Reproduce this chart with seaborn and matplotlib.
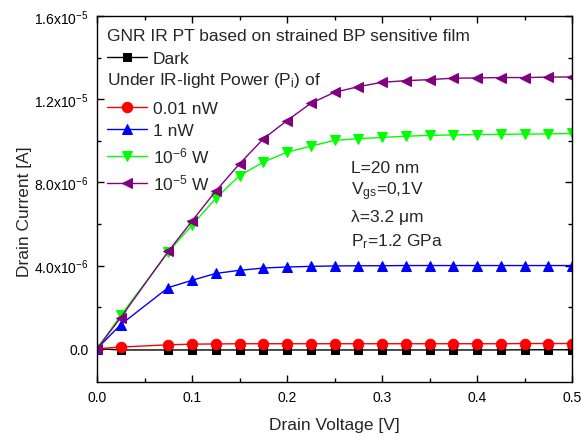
import matplotlib
matplotlib.use("Agg")
import matplotlib.pyplot as plt
import seaborn as sns
import numpy as np
import pandas as pd
from matplotlib.ticker import FixedLocator, FixedFormatter, MultipleLocator

# ---------------- data ----------------
drain_voltage = [0, 0.025, 0.075, 0.1, 0.125, 0.15, 0.175, 0.2, 0.225, 0.25,
                 0.275, 0.3, 0.325, 0.35, 0.375, 0.4, 0.425, 0.45, 0.475, 0.5]
# currents in units of 1e-6 A
dark = [0, -0.06, -0.06, -0.06, -0.06, -0.06, -0.06, -0.06, -0.06, -0.06,
        -0.06, -0.06, -0.06, -0.06, -0.06, -0.06, -0.06, -0.05, -0.05, -0.05]
p_001nW = [0, 0.08, 0.19, 0.22, 0.23, 0.24, 0.24, 0.24, 0.24, 0.24,
           0.24, 0.24, 0.24, 0.24, 0.24, 0.24, 0.24, 0.25, 0.25, 0.25]
p_1nW = [0, 1.16, 2.94, 3.29, 3.62, 3.77, 3.88, 3.93, 3.96, 3.98,
         3.99, 3.99, 4.0, 4.0, 4.0, 4.0, 4.0, 4.0, 4.0, 4.0]
p_1e6W = [0, 1.6, 4.65, 5.94, 7.23, 8.32, 8.97, 9.45, 9.74, 10.02,
          10.1, 10.16, 10.22, 10.26, 10.28, 10.3, 10.31, 10.32, 10.33, 10.35]
p_1e5W = [0, 1.5, 4.68, 6.14, 7.58, 8.89, 10.09, 10.97, 11.8, 12.33,
          12.6, 12.81, 12.89, 12.94, 13.01, 13.02, 13.04, 13.04, 13.06, 13.07]

series_labels = ["Dark", "0.01 nW", "1 nW", r"10$^{-6}$ W", r"10$^{-5}$ W"]
ytick_values = [0, 4e-6, 8e-6, 1.2e-5, 1.6e-5]
ytick_labels = ["0.0", r"4.0x10$^{-6}$", r"8.0x10$^{-6}$", r"1.2x10$^{-5}$", r"1.6x10$^{-5}$"]
xtick_values = [0.0, 0.1, 0.2, 0.3, 0.4, 0.5]
xtick_labels = ["0.0", "0.1", "0.2", "0.3", "0.4", "0.5"]
legend_title = "GNR IR PT based on strained BP sensitive film"
legend_sub = r"Under IR-light Power (P$_{\mathrm{i}}$) of"
annotations = ["L=20 nm", r"V$_{\mathrm{gs}}$=0,1V", "λ=3.2 μm", r"P$_{\mathrm{r}}$=1.2 GPa"]

# ---------------- style ----------------
sns.set_style("ticks")
plt.rcParams["font.family"] = ["Liberation Sans", "DejaVu Sans"]
plt.rcParams["mathtext.fontset"] = "custom"
plt.rcParams["mathtext.rm"] = "Liberation Sans"
plt.rcParams["mathtext.it"] = "Liberation Sans:italic"
plt.rcParams["mathtext.bf"] = "Liberation Sans:bold"
plt.rcParams["axes.linewidth"] = 1.0

W, H = 581, 439
fig = plt.figure(figsize=(W / 100, H / 100), dpi=100)
L, R, T, B = 97, 572, 17, 383
ax = fig.add_axes([L / W, (H - B) / H, (R - L) / W, (B - T) / H])

def ax_x(px):
    return (px - L) / (R - L)

def ax_y(py):
    return (B - py) / (B - T)

styles = [
    (dark, "black", "s", 6),
    (p_001nW, "#ff0000", "o", 7.5),
    (p_1nW, "#0000ff", "^", 7.5),
    (p_1e6W, "#00ff00", "v", 7.5),
    (p_1e5W, "#800080", "<", 7.5),
]
handles = []
for (vals, col, mk, ms), lab in zip(styles, series_labels):
    df = pd.DataFrame({"V": drain_voltage, "I": np.array(vals) * 1e-6})
    sns.lineplot(data=df, x="V", y="I", ax=ax, color=col, marker=mk,
                 markersize=ms, markeredgecolor=col, linewidth=1.0,
                 label=lab, legend=False)
    handles.append(ax.lines[-1])

ax.set_xlim(0, 0.5)
ax.set_ylim(-1.6e-6, 1.6e-5)
ax.xaxis.set_major_locator(FixedLocator(xtick_values))
ax.xaxis.set_major_formatter(FixedFormatter(xtick_labels))
ax.xaxis.set_minor_locator(MultipleLocator(0.05))
ax.yaxis.set_major_locator(FixedLocator(ytick_values))
ax.yaxis.set_major_formatter(FixedFormatter(ytick_labels))
ax.yaxis.set_minor_locator(MultipleLocator(2e-6))
ax.tick_params(which="both", direction="in", top=True, right=True,
               width=1.0, labelsize=10, colors="black")
ax.tick_params(which="major", length=5, pad=6)
ax.tick_params(which="minor", length=3)
for s in ax.spines.values():
    s.set_color("black")
    s.set_linewidth(1.0)

ax.set_xlabel("Drain Voltage [V]", fontsize=12.5)
ax.set_ylabel("Drain Current [A]", fontsize=12.5)
ax.xaxis.set_label_coords(0.5, ax_y(418))
ax.yaxis.set_label_coords(ax_x(32), ax_y(211.5))

fs = 12.5
ax.text(ax_x(107), ax_y(36.7), legend_title, fontsize=fs, va="center", ha="left",
        transform=ax.transAxes)
ax.text(ax_x(107), ax_y(80.7), legend_sub, fontsize=fs, va="center", ha="left",
        transform=ax.transAxes)

leg1 = ax.legend(handles=[handles[0]], labels=[series_labels[0]],
                 loc="center left", bbox_to_anchor=(ax_x(107), ax_y(59.3)),
                 frameon=False, fontsize=fs, handlelength=2.3, handletextpad=0.35,
                 borderpad=0, borderaxespad=0)
ax.add_artist(leg1)
leg2 = ax.legend(handles=handles[1:], labels=series_labels[1:],
                 loc="center left", bbox_to_anchor=(ax_x(107), ax_y(147.5)),
                 frameon=False, fontsize=fs, handlelength=2.3, handletextpad=0.35,
                 borderpad=0, borderaxespad=0, labelspacing=0.4)

ann_y = [168.3, 191.7, 218.0, 241.5]
for txt, py in zip(annotations, ann_y):
    ax.text(ax_x(350.7), ax_y(py), txt, fontsize=fs, va="center", ha="left",
            transform=ax.transAxes)

fig.savefig("out.png", dpi=100)
